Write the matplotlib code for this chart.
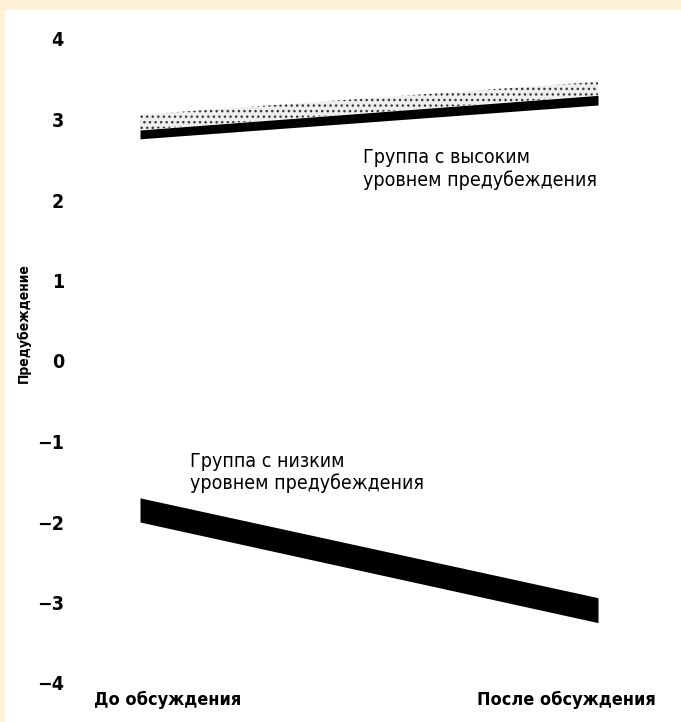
import matplotlib.pyplot as plt
import matplotlib.patches as patches

# Data
phases = ["До обсуждения", "После обсуждения"]
high_lower = [2.76, 3.18]       # black band, high-prejudice group
high_upper = [2.87, 3.30]
high_shade_top = [3.06, 3.47]   # stippled band above it
low_upper = [-1.70, -2.94]      # low-prejudice group band
low_lower = [-2.00, -3.25]
y_ticks = [4, 3, 2, 1, 0, -1, -2, -3, -4]

FONT = ["Liberation Sans Narrow", "DejaVu Sans"]
plt.rcParams["font.family"] = FONT
plt.rcParams["font.stretch"] = "condensed"
plt.rcParams["hatch.linewidth"] = 1.0

fig = plt.figure(figsize=(6.81, 7.22), dpi=100)
fig.patch.set_facecolor("#fdf0d6")
# white panel inside the beige frame
fig.patches.append(patches.Rectangle((5 / 681, 0), 1, (722 - 10) / 722,
                                     transform=fig.transFigure, facecolor="white",
                                     edgecolor="none", zorder=0))

ax = fig.add_axes([100 / 681, (722 - 683) / 722, 540 / 681, (683 - 39) / 722])
ax.set_zorder(2)
ax.patch.set_alpha(0)

x = list(range(len(phases)))

# high-prejudice group: stippled top + solid black bottom
ax.fill_between(x, high_upper, high_shade_top, facecolor="#eeeeee",
                edgecolor="#3a3a3a", hatch="...", linewidth=0)
ax.fill_between(x, high_lower, high_upper, color="black", linewidth=0)

# low-prejudice group: thick black band
ax.fill_between(x, low_lower, low_upper, color="black", linewidth=0)

ax.set_xlim(-40 / 458, 1 + 42 / 458)
ax.set_ylim(-4, 4)
ax.set_xticks([])
ax.set_yticks(y_ticks)
ax.set_yticklabels([str(t).replace("-", "\u2212") for t in y_ticks],
                   fontsize=14, fontweight="bold")
ax.tick_params(axis="y", length=0, pad=26)
for s in ax.spines.values():
    s.set_visible(False)

# x labels
ax.text(0.06, -4.1, phases[0], ha="center", va="top", fontsize=13, fontweight="bold")
ax.text(0.93, -4.1, phases[1], ha="center", va="top", fontsize=13, fontweight="bold")

# group labels
ax.text(0.487, 2.64, "Группа с высоким\nуровнем предубеждения", ha="left", va="top",
        fontsize=14, linespacing=1.15)
ax.text(0.109, -1.13, "Группа с низким\nуровнем предубеждения", ha="left", va="top",
        fontsize=14, linespacing=1.15)

fig.text(24 / 681, 1 - 323 / 722, "Предубеждение", rotation=90, ha="center",
         va="center", fontsize=10, fontweight="bold")

fig.savefig("out.png", dpi=100)
